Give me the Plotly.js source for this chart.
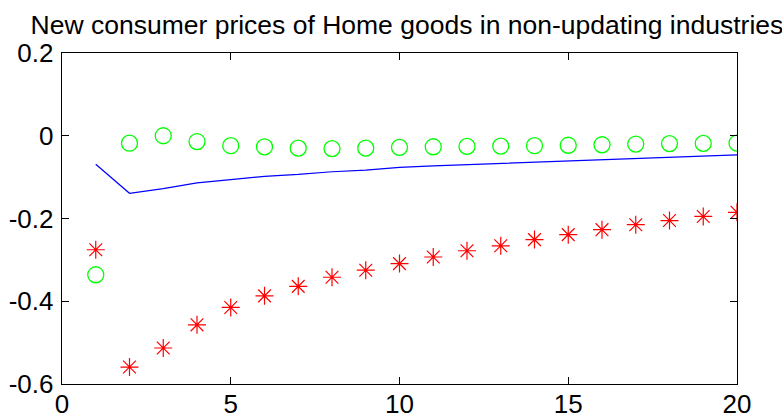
<!DOCTYPE html>
<html>
<head>
<meta charset="utf-8">
<script src="https://cdn.plot.ly/plotly-3.0.1.min.js"></script>
<style>html,body{margin:0;padding:0;background:#fff;}#chart{width:782px;height:417px;}</style>
</head>
<body>
<div id="chart"></div>
<script>
const periods = [1,2,3,4,5,6,7,8,9,10,11,12,13,14,15,16,17,18,19,20];
const lineValues = [-0.069,-0.139,-0.128,-0.114,-0.106,-0.098,-0.0935,-0.087,-0.083,-0.0765,-0.073,-0.070,-0.0665,-0.063,-0.060,-0.057,-0.054,-0.051,-0.0485,-0.046];
const circleValues = [-0.336,-0.018,0.0,-0.014,-0.024,-0.027,-0.030,-0.031,-0.030,-0.028,-0.0266,-0.0258,-0.025,-0.024,-0.023,-0.0218,-0.020,-0.019,-0.0185,-0.0177];
const starValues = [-0.2755,-0.559,-0.513,-0.457,-0.415,-0.387,-0.364,-0.342,-0.325,-0.309,-0.293,-0.278,-0.266,-0.251,-0.239,-0.227,-0.215,-0.205,-0.195,-0.185];
const yTickVals = [-0.6,-0.4,-0.2,0,0.2];
const yTickText = ['-0.6','-0.4','-0.2','0','0.2'];
const xTickVals = [0,5,10,15,20];
const xTickText = ['0','5','10','15','20'];
const titleText = 'New consumer prices of Home goods in non-updating industries';

const font = 'Liberation Sans, Arial, Helvetica, sans-serif';
const traces = [
  {x: periods, y: lineValues, type: 'scatter', mode: 'lines', line: {color: '#0000ff', width: 1.2}, hoverinfo: 'skip'},
  {x: periods, y: circleValues, type: 'scatter', mode: 'markers', marker: {symbol: 'circle-open', size: 16, color: '#00ff00', line: {color: '#00ff00', width: 1.3}}},
  {x: periods, y: starValues, type: 'scatter', mode: 'markers', marker: {symbol: 'asterisk-open', size: 15, color: '#ff0000', line: {color: '#ff0000', width: 1.2}}}
];
const axisCommon = {
  showline: true, linecolor: '#000', linewidth: 1.3, mirror: 'ticks',
  ticks: 'inside', ticklen: 7, tickwidth: 1, tickcolor: '#000',
  showgrid: false, zeroline: false,
  tickfont: {family: font, size: 26, color: '#000'}, tickmode: 'array'
};
const layout = {
  width: 782, height: 417,
  margin: {l: 62, r: 45, t: 53, b: 33, pad: 0},
  paper_bgcolor: '#fff', plot_bgcolor: '#fff',
  showlegend: false,
  title: {text: titleText, font: {family: font, size: 26.5, color: '#000'}, x: 0.511, xanchor: 'center', xref: 'paper', y: 1 - 25/417, yref: 'container', yanchor: 'middle'},
  xaxis: Object.assign({}, axisCommon, {range: [0, 20], tickvals: xTickVals, ticktext: xTickText, ticklabelstandoff: -4}),
  yaxis: Object.assign({}, axisCommon, {range: [-0.6, 0.2], tickvals: yTickVals, ticktext: yTickText, ticklabelstandoff: 2})
};
Plotly.newPlot('chart', traces, layout, {displayModeBar: false, staticPlot: true});
</script>
</body>
</html>
